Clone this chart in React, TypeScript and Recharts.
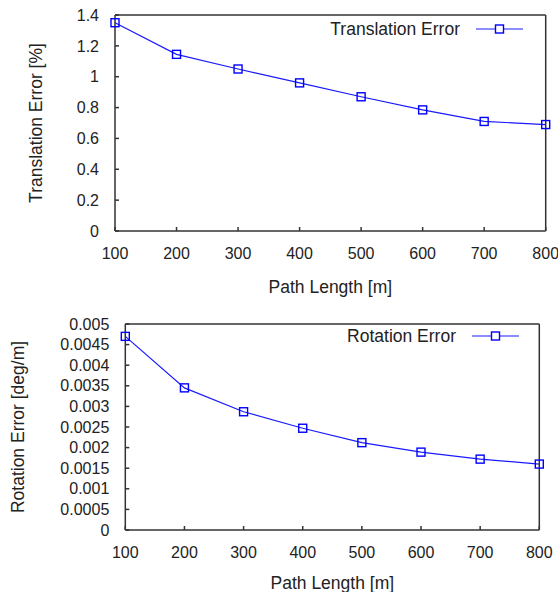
import { LineChart, Line, XAxis, YAxis, Legend } from 'recharts'

const pathLengths = [100, 200, 300, 400, 500, 600, 700, 800]
const translationErrors = [1.35, 1.145, 1.05, 0.96, 0.87, 0.785, 0.71, 0.69]
const rotationErrors = [0.0047, 0.00345, 0.00287, 0.00247, 0.00212, 0.00189, 0.00172, 0.0016]

const translationTicks = [0, 0.2, 0.4, 0.6, 0.8, 1, 1.2, 1.4]
const rotationTicks = [0, 0.0005, 0.001, 0.0015, 0.002, 0.0025, 0.003, 0.0035, 0.004, 0.0045, 0.005]

const FONT = '"Liberation Sans", Arial, Helvetica, sans-serif'
const BLUE = '#1a1aff'
const FRAME = '#333'
const TEXT = '#222'

// hollow gnuplot-style square marker
const SquareDot = ({ cx, cy }: { cx?: number; cy?: number }) => {
    if (cx == null || cy == null) return null
    return <rect x={cx - 4} y={cy - 4} width={8} height={8} fill="none" stroke="#0000ff" strokeWidth={1.4} />
}

interface PanelProps {
    values: number[]
    yTicks: number[]
    yMax: number
    yLabel: string
    name: string
    height: number
    xAxisHeight: number
    margin: { top: number; right: number; left: number }
    yAxisWidth: number
    yLabelX: number
    xLabelDy: number
    legendTop: number
    legendRight: number
}

function ErrorPanel({ values, yTicks, yMax, yLabel, name, height, xAxisHeight, margin, yAxisWidth, yLabelX, xLabelDy, legendTop, legendRight }: PanelProps) {
    const data = pathLengths.map((len, i) => ({ len, value: values[i] }))
    const tickStyle = { fill: TEXT, fontSize: 16, fontFamily: FONT }

    return (
        <LineChart width={558} height={height} data={data} margin={{ top: margin.top, right: margin.right, left: margin.left, bottom: 0 }}
            style={{ display: 'block' }}>
            <XAxis
                dataKey="len"
                type="number"
                domain={[100, 800]}
                ticks={pathLengths}
                interval={0}
                height={xAxisHeight}
                tickSize={-4}
                tickMargin={21}
                stroke={FRAME}
                strokeWidth={1.5}
                tick={tickStyle}
                label={{
                    content: (props: any) => {
                        const vb = props.viewBox || {}
                        return (
                            <text x={vb.x + vb.width / 2} y={vb.y + xLabelDy} textAnchor="middle" dominantBaseline="central"
                                fill={TEXT} fontSize={17.5} fontFamily={FONT}>Path Length [m]</text>
                        )
                    },
                }}
            />
            <XAxis xAxisId="top" orientation="top" type="number" domain={[100, 800]} ticks={pathLengths} interval={0}
                height={1} tickSize={-4} tick={false} stroke={FRAME} strokeWidth={1.5} />
            <YAxis
                type="number"
                domain={[0, yMax]}
                ticks={yTicks}
                interval={0}
                width={yAxisWidth}
                tickSize={-4}
                tickMargin={20}
                stroke={FRAME}
                strokeWidth={1.5}
                tick={tickStyle}
                tickFormatter={(v: number) => String(v)}
                label={{
                    content: (props: any) => {
                        const vb = props.viewBox || {}
                        const cx = vb.x + yLabelX
                        const cy = vb.y + vb.height / 2
                        return (
                            <text x={cx} y={cy} textAnchor="middle" dominantBaseline="central" transform={`rotate(-90 ${cx} ${cy})`}
                                fill={TEXT} fontSize={17.5} fontFamily={FONT}>{yLabel}</text>
                        )
                    },
                }}
            />
            <YAxis yAxisId="right" orientation="right" type="number" domain={[0, yMax]} ticks={yTicks} interval={0}
                width={1} tickSize={-4} tick={false} stroke={FRAME} strokeWidth={1.5} />
            <Legend
                layout="vertical"
                align="center"
                verticalAlign="middle"
                wrapperStyle={{ top: legendTop, left: 0, width: legendRight, height: 18 }}
                content={() => (
                    <div style={{ display: 'flex', justifyContent: 'flex-end', alignItems: 'center', height: 18, fontFamily: FONT, fontSize: 17.5, color: TEXT }}>
                        <span style={{ lineHeight: '18px' }}>{name}</span>
                        <svg width={47} height={10} style={{ marginLeft: 16 }}>
                            <line x1={0} y1={5} x2={47} y2={5} stroke={BLUE} strokeWidth={1.2} />
                            <rect x={19.5} y={1} width={8} height={8} fill="white" stroke="#0000ff" strokeWidth={1.4} />
                        </svg>
                    </div>
                )}
            />
            <Line
                type="linear"
                dataKey="value"
                name={name}
                stroke={BLUE}
                strokeWidth={1.2}
                dot={<SquareDot />}
                activeDot={false}
                isAnimationActive={false}
            />
        </LineChart>
    )
}

export default function App() {
    return (
        <div style={{ position: 'absolute', left: 0, top: 0, width: 558, height: 592, background: '#fff' }}>
            <ErrorPanel
                values={translationErrors}
                yTicks={translationTicks}
                yMax={1.4}
                yLabel="Translation Error [%]"
                name="Translation Error"
                height={300}
                xAxisHeight={69}
                margin={{ top: 14, right: 11.3, left: 0 }}
                yAxisWidth={115}
                yLabelX={35.5}
                xLabelDy={56}
                legendTop={20}
                legendRight={523}
            />
            <ErrorPanel
                values={rotationErrors}
                yTicks={rotationTicks}
                yMax={0.005}
                yLabel="Rotation Error [deg/m]"
                name="Rotation Error"
                height={292}
                xAxisHeight={62}
                margin={{ top: 23, right: 17.7, left: 0 }}
                yAxisWidth={125.3}
                yLabelX={17.5}
                xLabelDy={53}
                legendTop={27}
                legendRight={519}
            />
        </div>
    )
}
